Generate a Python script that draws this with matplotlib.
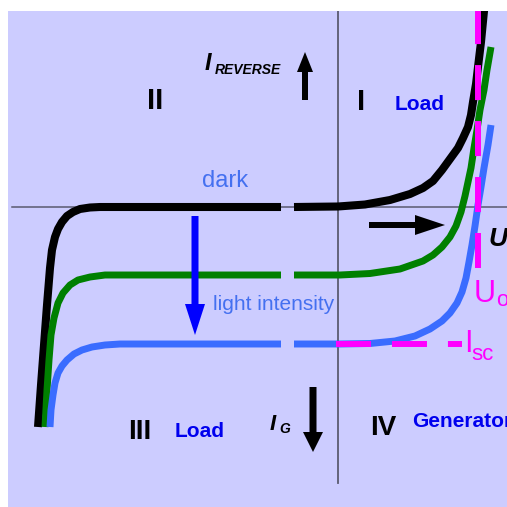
import matplotlib
matplotlib.use("Agg")
import matplotlib.pyplot as plt
from matplotlib.patches import FancyArrow

plt.rcParams['font.family'] = ['Liberation Sans', 'DejaVu Sans']

# Characteristic curves in (U, I) units; origin at the axis crossing,
# I positive upward (reverse direction).  Each curve is broken near U = -50.
dark_left_u = [-300, -297, -294, -291, -288, -286, -283, -280, -276, -271, -265, -258, -248, -238, -57]
dark_left_i = [-220, -178, -138, -98, -61, -43, -30, -22, -15, -9, -5, -2, -0.5, 0, 0]
dark_right_u = [-44, 0, 27, 52, 72, 85, 95, 104, 112, 120, 125, 130, 133, 135, 138, 140, 143, 146, 147]
dark_right_i = [0, 0.5, 2.5, 7, 13, 19, 26, 37, 48, 59, 69, 80, 92, 105, 123, 140, 165, 196, 210]

green_left_u = [-293, -291, -289, -287, -284, -280, -275, -268, -260, -248, -233, -57]
green_left_i = [-220, -183, -153, -128, -111, -96, -86, -78, -73, -70, -68, -68]
green_right_u = [-44, 2, 32, 62, 85, 95, 104, 112, 118, 123, 127, 130, 133, 136, 139, 142, 146, 149, 153]
green_right_i = [-68, -68, -66.5, -62, -54, -48, -40, -30, -19, -5, 11, 25, 39, 59, 77, 97, 117, 137, 160]

blue_left_u = [-288, -287, -285, -283, -280, -276, -271, -264, -256, -246, -233, -218, -57]
blue_left_i = [-220, -203, -188, -176, -166, -159, -153, -147, -143, -140, -138, -137, -137]
blue_right_u = [-44, 2, 32, 57, 77, 92, 104, 112, 119, 124, 128, 131, 134, 137, 140, 143, 146, 150, 153]
blue_right_i = [-137, -137, -136.5, -134, -129, -122, -114, -106, -96, -85, -71, -55, -38, -19, 2, 20, 39, 62, 82]

# Open-circuit voltage and short-circuit current markers
u_oc = 140
i_sc = -137

BG = '#CCCCFF'
AXIS_C = '#5a5a70'
MAGENTA = '#FF00FF'
LABEL_BLUE = '#0000EE'
SOFT_BLUE = '#4470F0'

fig = plt.figure(figsize=(5.07, 5.07), dpi=100)
fig.patch.set_facecolor('white')
ax = fig.add_axes([8 / 507, 0, 499 / 507, 496 / 507])
ax.set_facecolor(BG)
ax.set_xlim(-330, 169)
ax.set_ylim(-300, 196)
for s in ax.spines.values():
    s.set_visible(False)
ax.set_xticks([])
ax.set_yticks([])

# coordinate axes
ax.plot([-326, 169], [0, 0], color=AXIS_C, lw=1.1, zorder=1)
ax.plot([0, 0], [196, -276], color=AXIS_C, lw=1.3, zorder=1)

curve_kw = dict(solid_capstyle='butt', solid_joinstyle='round', zorder=3)
ax.plot(dark_left_u, dark_left_i, color='black', lw=5.8, **curve_kw)
ax.plot(dark_right_u, dark_right_i, color='black', lw=5.8, **curve_kw)
ax.plot(green_left_u, green_left_i, color='#008000', lw=5.0, **curve_kw)
ax.plot(green_right_u, green_right_i, color='#008000', lw=5.0, **curve_kw)
ax.plot(blue_left_u, blue_left_i, color='#3A6CFF', lw=5.0, **curve_kw)
ax.plot(blue_right_u, blue_right_i, color='#3A6CFF', lw=5.0, **curve_kw)

# dashed U_oc / I_sc guides
lw_m = 4.3
dash = (25.2 / lw_m, 15.1 / lw_m)
v, = ax.plot([u_oc, u_oc], [-61, 221], color=MAGENTA, lw=lw_m, zorder=4,
             solid_capstyle='butt', dash_capstyle='butt')
v.set_dashes(dash)
h, = ax.plot([-2, 124], [i_sc, i_sc], color=MAGENTA, lw=lw_m, zorder=4,
             dash_capstyle='butt')
h.set_dashes(dash)

# arrows
def arrow(x, y, dx, dy, w, hw, hl, color):
    ax.add_patch(FancyArrow(x, y, dx, dy, width=w, head_width=hw, head_length=hl,
                            length_includes_head=True, color=color, lw=0, zorder=5))

arrow(-33, 107, 0, 48, 6, 16, 20, 'black')     # I_reverse
arrow(31, -18, 76, 0, 6, 20, 30, 'black')      # U
arrow(-143, -9, 0, -119, 7, 20, 31, '#0000FF') # light intensity
arrow(-25, -180, 0, -65, 7, 20, 20, 'black')   # I_G

# labels
t = dict(va='baseline', zorder=6)
ax.text(-183, 98, 'II', ha='center', fontsize=21, fontweight='bold', **t)
ax.text(23, 97, 'I', ha='center', fontsize=21, fontweight='bold', **t)
ax.text(57, 97, 'Load', ha='left', fontsize=15, fontweight='bold', color=LABEL_BLUE, **t)
ax.text(-198, -232, 'III', ha='center', fontsize=20, fontweight='bold', **t)
ax.text(-163, -230, 'Load', ha='left', fontsize=15, fontweight='bold', color=LABEL_BLUE, **t)
ax.text(45, -228, 'IV', ha='center', fontsize=20, fontweight='bold', **t)
ax.text(74, -220, 'Generator', ha='left', fontsize=15, fontweight='bold', color=LABEL_BLUE, **t)

ax.text(-136, 20, 'dark', ha='left', fontsize=17, color=SOFT_BLUE, **t)
ax.text(-125, -103, 'light intensity', ha='left', fontsize=15, color=SOFT_BLUE, **t)

ax.text(-133, 137, 'I', ha='left', fontsize=17, fontweight='bold', style='italic', **t)
ax.text(-123, 133, 'REVERSE', ha='left', fontsize=10, fontweight='bold', style='italic', **t)
ax.text(-68, -223, 'I', ha='left', fontsize=16, fontweight='bold', style='italic', **t)
ax.text(-59, -226, 'G', ha='left', fontsize=10, fontweight='bold', style='italic', **t)
ax.text(150, -39, 'U', ha='left', fontsize=19, fontweight='bold', style='italic', **t)

ax.text(136, -95, 'U', ha='left', fontsize=22, color=MAGENTA, **t)
ax.text(158, -99, 'oc', ha='left', fontsize=16, color=MAGENTA, **t)
ax.text(126, -145, 'I', ha='left', fontsize=22, color=MAGENTA, **t)
ax.text(133, -153, 'sc', ha='left', fontsize=16, color=MAGENTA, **t)

fig.savefig('out.png', dpi=100, facecolor='white')
